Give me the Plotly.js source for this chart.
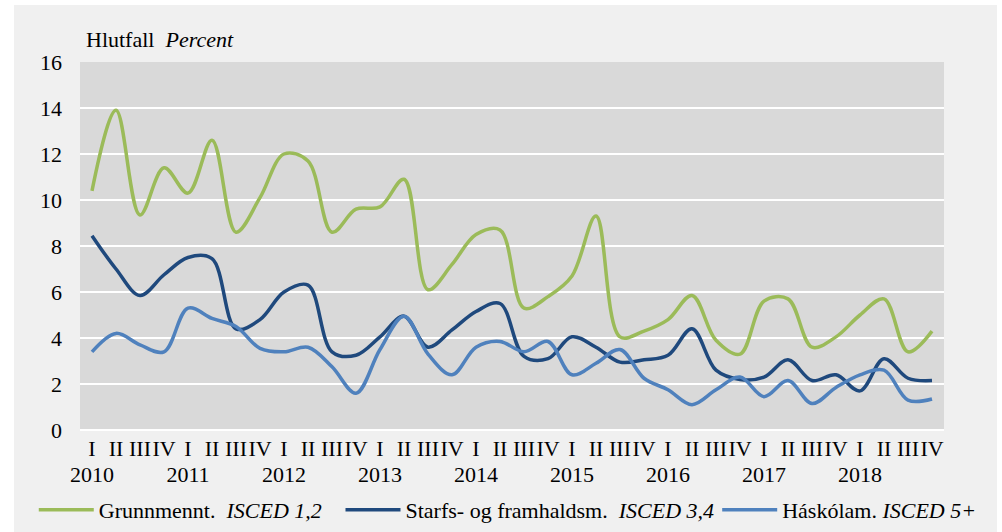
<!DOCTYPE html>
<html>
<head>
<meta charset="utf-8">
<script src="https://cdn.plot.ly/plotly-3.0.1.min.js"></script>
<style>
html,body{margin:0;padding:0;background:#ffffff;}
#chart{position:absolute;left:14px;top:5px;width:983px;height:527px;}
</style>
</head>
<body>
<div id="chart"></div>
<script>
const years = ["2010","2011","2012","2013","2014","2015","2016","2017","2018"];
const quarters = ["I","II","III","IV"];

const grunnmennt = [10.4, 13.9, 9.35, 11.4, 10.3, 12.6, 8.6, 10.1, 12.0, 11.7, 8.6, 9.6,
                    9.7, 10.9, 6.1, 7.2, 8.5, 8.7, 5.3, 5.8, 6.7, 9.3, 4.05, 4.3,
                    4.8, 5.85, 3.9, 3.3, 5.6, 5.7, 3.6, 4.05, 5.0, 5.7, 3.4, 4.3];
const framhalds = [8.45, 7.0, 5.85, 6.75, 7.5, 7.45, 4.4, 4.8, 6.0, 6.3, 3.4, 3.25,
                   4.05, 4.95, 3.6, 4.35, 5.15, 5.5, 3.2, 3.1, 4.05, 3.6, 2.95, 3.05,
                   3.25, 4.4, 2.6, 2.2, 2.3, 3.05, 2.15, 2.4, 1.7, 3.1, 2.25, 2.15];
const haskola = [3.4, 4.2, 3.7, 3.4, 5.3, 4.85, 4.5, 3.55, 3.4, 3.6, 2.75, 1.6,
                 3.5, 4.95, 3.3, 2.4, 3.6, 3.85, 3.4, 3.85, 2.4, 2.9, 3.5, 2.25,
                 1.75, 1.1, 1.75, 2.3, 1.45, 2.15, 1.15, 1.85, 2.4, 2.6, 1.3, 1.35];

const seriesNames = ["Grunnmennt.  <i>ISCED 1,2</i>",
                     "Starfs- og framhaldsm.  <i>ISCED 3,4</i>",
                     "Háskólam. <i>ISCED 5+</i>"];
const seriesColors = ["#9bbb59", "#1f497d", "#4f81bd"];

const xIdx = [];
const qText = [];
const yearIdx = [];
years.forEach((y, yi) => {
  yearIdx.push(yi * 4);
  quarters.forEach((q, qi) => {
    xIdx.push(yi * 4 + qi);
    qText.push(q);
  });
});

const legendIds = ["legend", "legend2", "legend3"];
const data = [grunnmennt, framhalds, haskola].map((vals, i) => ({
  type: "scatter",
  mode: "lines",
  x: xIdx,
  y: vals,
  name: seriesNames[i],
  legend: legendIds[i],
  line: {color: seriesColors[i], width: 3.5, shape: "spline", smoothing: 1},
  hoverinfo: "skip"
}));
// invisible helper trace to activate the year axis
data.push({
  type: "scatter", mode: "none", x: yearIdx, y: yearIdx.map(() => 0),
  xaxis: "x2", showlegend: false, hoverinfo: "skip"
});

const font = {family: "Liberation Serif", size: 22, color: "#000000"};

function legendAt(xp) {
  return {
    orientation: "h",
    x: xp, xanchor: "left",
    yref: "container",
    y: 0.042, yanchor: "middle",
    font: font,
    bgcolor: "rgba(0,0,0,0)",
    borderwidth: 0,
    itemwidth: 55
  };
}

const baseX = {
  range: [-0.5, 35.5],
  tickmode: "array",
  showgrid: false,
  zeroline: false,
  showline: false,
  ticks: "",
  tickangle: 0,
  tickfont: font,
  automargin: false,
  fixedrange: true
};

const layout = {
  width: 983,
  height: 527,
  paper_bgcolor: "#f0f0f0",
  plot_bgcolor: "#d9d9d9",
  font: font,
  margin: {l: 66, r: 53, t: 57, b: 102, autoexpand: false},
  showlegend: true,
  legend: legendAt(-0.0535),
  legend2: legendAt(0.3015),
  legend3: legendAt(0.7375),
  xaxis: Object.assign({}, baseX, {tickvals: xIdx, ticktext: qText, ticklabelstandoff: 3}),
  xaxis2: Object.assign({}, baseX, {tickvals: yearIdx, ticktext: years, overlaying: "x", side: "bottom", anchor: "y", ticklabelstandoff: 29}),
  yaxis: {
    range: [0, 16],
    tickmode: "array",
    tickvals: [0, 2, 4, 6, 8, 10, 12, 14, 16],
    showgrid: true,
    gridcolor: "#ffffff",
    gridwidth: 2,
    zeroline: true,
    zerolinecolor: "#ffffff",
    zerolinewidth: 2,
    showline: false,
    ticks: "",
    ticklabelstandoff: 17,
    tickfont: font,
    automargin: false,
    fixedrange: true
  },
  annotations: [{
    xref: "paper", yref: "paper",
    x: 0.0, y: 1.0,
    xanchor: "left", yanchor: "bottom",
    xshift: 4, yshift: 8,
    showarrow: false,
    text: "Hlutfall  <i>Percent</i>",
    font: font
  }]
};

Plotly.newPlot("chart", data, layout, {displayModeBar: false, staticPlot: true});
</script>
</body>
</html>
